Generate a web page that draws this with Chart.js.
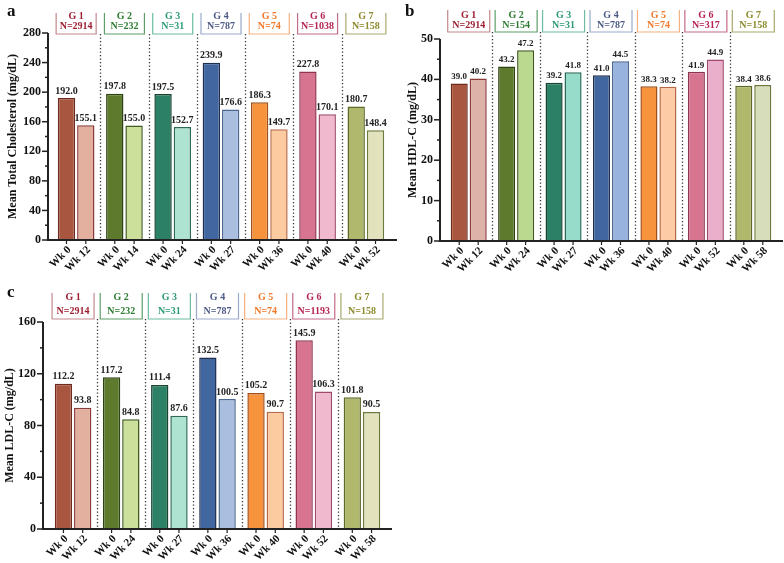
<!DOCTYPE html>
<html>
<head>
<meta charset="utf-8">
<script src="https://cdn.jsdelivr.net/npm/chart.js@4.4.1/dist/chart.umd.min.js"></script>
<style>
  body { margin: 0; background: #fff; }
  #wrap { position: relative; width: 784px; height: 563px; }
  canvas { position: absolute; }
</style>
</head>
<body>
<div id="wrap">
  <canvas id="chartA" width="400" height="280" style="left:0;top:0"></canvas>
  <canvas id="chartB" width="392" height="280" style="left:392px;top:0"></canvas>
  <canvas id="chartC" width="400" height="283" style="left:0;top:280px"></canvas>
</div>
<script>
// groups
let groups = ['G 1', 'G 2', 'G 3', 'G 4', 'G 5', 'G 6', 'G 7'];

// a - total cholesterol
let tcN = [2914, 232, 31, 787, 74, 1038, 158];
let tcWeeks = ['Wk 12', 'Wk 14', 'Wk 24', 'Wk 27', 'Wk 36', 'Wk 40', 'Wk 52'];
let tcBase = [192.0, 197.8, 197.5, 239.9, 186.3, 227.8, 180.7];
let tcEnd = [155.1, 155.0, 152.7, 176.6, 149.7, 170.1, 148.4];

// b - HDL-C
let hdlN = [2914, 154, 31, 787, 74, 317, 158];
let hdlWeeks = ['Wk 12', 'Wk 24', 'Wk 27', 'Wk 36', 'Wk 40', 'Wk 52', 'Wk 58'];
let hdlBase = [39.0, 43.2, 39.2, 41.0, 38.3, 41.9, 38.4];
let hdlEnd = [40.2, 47.2, 41.8, 44.5, 38.2, 44.9, 38.6];

// c - LDL-C
let ldlN = [2914, 232, 31, 787, 74, 1193, 158];
let ldlWeeks = ['Wk 12', 'Wk 24', 'Wk 27', 'Wk 36', 'Wk 40', 'Wk 52', 'Wk 58'];
let ldlBase = [112.2, 117.2, 111.4, 132.5, 105.2, 145.9, 101.8];
let ldlEnd = [93.8, 84.8, 87.6, 100.5, 90.7, 106.3, 90.5];

// colours
const fill0 = ['#A85640', '#5E7A2C', '#2C8065', '#4166A0', '#F7923D', '#D7748F', '#AFB86C'];
const fillN = ['#E3B0A0', '#CCE09C', '#ADE3D0', '#AABEE0', '#FDCBA0', '#F0B9CD', '#E2E2BD'];
const fillNb = ['#DDB3A9', '#BCDA8F', '#97DCCB', '#98B3DE', '#FDCBA6', '#E9AFCB', '#D7DCBB'];
const edge0 = ['#6E2A1C', '#2E4214', '#17432F', '#1E2E4E', '#A0501C', '#8E3452', '#5E6A2A'];
const edgeN = ['#8C3A3A', '#3F5A1E', '#2C6A55', '#4C6890', '#B86A48', '#A04A6A', '#6A7A3A'];
const headText = ['#9E1F32', '#2F7D32', '#2E9A78', '#4E5A86', '#F07A2A', '#B52450', '#8C8A2C'];
const headBox = ['#C28A8C', '#5E9E6A', '#6DBBA0', '#9AAACC', '#F5B080', '#C46A8A', '#A8A870'];

const SERIF = '"Liberation Serif", "Times New Roman", serif';

const decor = {
  id: 'decor',
  afterDatasetsDraw(chart, args, o) {
    const { ctx, chartArea: ca, scales: { x, y } } = chart;
    const ax = ca.left - o.gap;
    ctx.save();

    // dotted separators
    ctx.strokeStyle = '#333';
    ctx.lineWidth = 1.3;
    ctx.setLineDash([1.3, 2.2]);
    for (let i = 0; i < groups.length - 1; i++) {
      const px = Math.round((x.getPixelForValue(i) + x.getPixelForValue(i + 1)) / 2) + 0.5;
      ctx.beginPath();
      ctx.moveTo(px, o.boxBottom);
      ctx.lineTo(px, ca.bottom);
      ctx.stroke();
    }
    ctx.setLineDash([]);

    // header boxes
    groups.forEach((g, i) => {
      const cx = x.getPixelForValue(i);
      ctx.strokeStyle = headBox[i];
      ctx.lineWidth = 1.2;
      ctx.beginPath();
      ctx.moveTo(cx - o.boxW, o.boxTop);
      ctx.lineTo(cx - o.boxW, o.boxBottom);
      ctx.lineTo(cx + o.boxW, o.boxBottom);
      ctx.lineTo(cx + o.boxW, o.boxTop);
      ctx.stroke();
      ctx.fillStyle = headText[i];
      ctx.font = 'bold 10px ' + SERIF;
      ctx.textAlign = 'center';
      ctx.textBaseline = 'middle';
      ctx.fillText(g, cx, o.line1);
      ctx.fillText('N=' + o.ns[i], cx, o.line2);
    });

    // axes
    ctx.strokeStyle = '#222';
    ctx.lineWidth = 2;
    ctx.beginPath();
    ctx.moveTo(ax, y.getPixelForValue(y.max));
    ctx.lineTo(ax, ca.bottom);
    ctx.lineTo(ca.right + o.ext, ca.bottom);
    ctx.stroke();

    // y ticks
    ctx.fillStyle = '#111';
    ctx.font = 'bold 12px ' + SERIF;
    ctx.textAlign = 'right';
    ctx.textBaseline = 'middle';
    ctx.lineWidth = 1.5;
    for (let v = 0; v <= y.max; v += o.minor) {
      const py = y.getPixelForValue(v);
      const major = v % o.major === 0;
      ctx.beginPath();
      ctx.moveTo(ax, py);
      ctx.lineTo(ax - (major ? 6 : 3), py);
      ctx.stroke();
      if (major) ctx.fillText(String(v), ax - 7, py);
    }

    // y title
    ctx.save();
    ctx.translate(o.titleX, (ca.top + ca.bottom) / 2);
    ctx.rotate(-Math.PI / 2);
    ctx.textAlign = 'center';
    ctx.font = 'bold 12px ' + SERIF;
    ctx.fillText(o.title, 0, 0);
    ctx.restore();

    // panel letter
    ctx.font = 'bold 17px ' + SERIF;
    ctx.textAlign = 'left';
    ctx.textBaseline = 'alphabetic';
    ctx.fillText(o.letter, o.letterX, o.letterY);

    // bar values, x tick marks and week labels
    chart.data.datasets.forEach((ds, d) => {
      chart.getDatasetMeta(d).data.forEach((bar, i) => {
        ctx.fillStyle = '#222';
        ctx.font = 'bold ' + o.valSize + 'px ' + SERIF;
        ctx.textAlign = 'center';
        ctx.textBaseline = 'bottom';
        ctx.fillText(ds.data[i].toFixed(1), bar.x, bar.y - 2);

        ctx.strokeStyle = '#222';
        ctx.lineWidth = 1.2;
        ctx.beginPath();
        ctx.moveTo(bar.x, ca.bottom);
        ctx.lineTo(bar.x, ca.bottom + 4);
        ctx.stroke();

        ctx.save();
        ctx.translate(bar.x + 3, ca.bottom + 8);
        ctx.rotate(-Math.PI / 4);
        ctx.fillStyle = '#111';
        ctx.font = 'bold 11px ' + SERIF;
        ctx.textAlign = 'right';
        ctx.textBaseline = 'middle';
        ctx.fillText(d === 0 ? 'Wk 0' : o.weeks[i], 0, 0);
        ctx.restore();
      });
    });
    ctx.restore();
  }
};

function makeChart(id, base, end, endFill, o) {
  return new Chart(document.getElementById(id), {
    type: 'bar',
    data: {
      labels: groups,
      datasets: [
        { data: base, backgroundColor: fill0, borderColor: edge0, borderWidth: 1.5,
          categoryPercentage: 0.8, barPercentage: 0.9 },
        { data: end, backgroundColor: endFill, borderColor: edgeN, borderWidth: 1.5,
          categoryPercentage: 0.8, barPercentage: 0.9 }
      ]
    },
    options: {
      responsive: false,
      animation: false,
      layout: { padding: { top: o.top, right: o.right, left: 0, bottom: 0 } },
      plugins: { legend: { display: false }, tooltip: { enabled: false }, decor: o },
      scales: {
        x: {
          ticks: { display: false }, grid: { display: false }, border: { display: false },
          afterFit: s => { s.height = o.xh; }
        },
        y: {
          min: 0, max: o.max,
          ticks: { display: false, stepSize: o.major }, grid: { display: false }, border: { display: false },
          afterFit: s => { s.width = o.yw; }
        }
      }
    },
    plugins: [decor]
  });
}

makeChart('chartA', tcBase, tcEnd, fillN, {
  max: 280, major: 40, minor: 20, yw: 52, right: 10, top: 33, xh: 40, gap: 4, ext: 7, valSize: 10,
  title: 'Mean Total Cholesterol (mg/dL)', titleX: 13, letter: 'a', letterX: 7, letterY: 16,
  ns: tcN, weeks: tcWeeks, boxW: 20, boxTop: 13, boxBottom: 34, line1: 16, line2: 26
});

makeChart('chartB', hdlBase, hdlEnd, fillNb, {
  max: 50, major: 10, minor: 5, yw: 53, right: 7, top: 39, xh: 39, gap: 5, ext: 6, valSize: 9,
  title: 'Mean HDL-C (mg/dL)', titleX: 21, letter: 'b', letterX: 13, letterY: 16,
  ns: hdlN, weeks: hdlWeeks, boxW: 21, boxTop: 10, boxBottom: 32, line1: 15, line2: 25
});

makeChart('chartC', ldlBase, ldlEnd, fillN, {
  max: 160, major: 40, minor: 20, yw: 49, right: 14, top: 42, xh: 34, gap: 6, ext: 6, valSize: 10,
  title: 'Mean LDL-C (mg/dL)', titleX: 10, letter: 'c', letterX: 7, letterY: 17,
  ns: ldlN, weeks: ldlWeeks, boxW: 21, boxTop: 13, boxBottom: 39, line1: 17, line2: 31
});
</script>
</body>
</html>
